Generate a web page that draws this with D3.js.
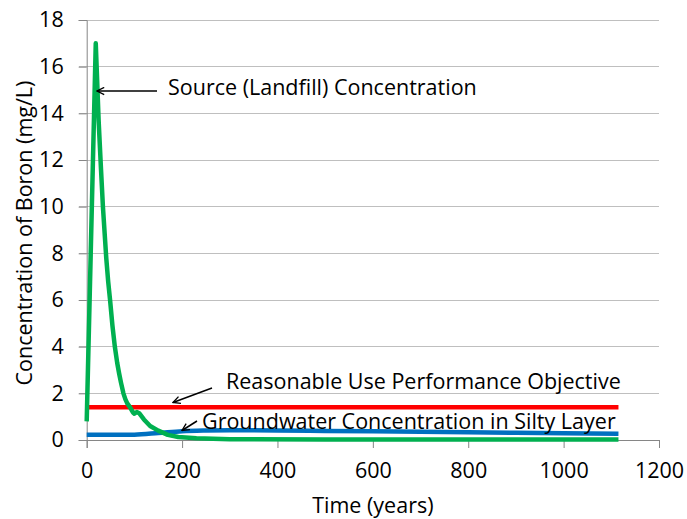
<!DOCTYPE html>
<html>
<head>
<meta charset="utf-8">
<script src="https://cdn.jsdelivr.net/npm/d3@7"></script>
<style>
  html, body { margin: 0; padding: 0; background: #fff; }
  svg { display: block; }
  text { font-family: "Open Sans", Lato, sans-serif; fill: #000; }
</style>
</head>
<body>
<svg id="chart" width="687" height="519"></svg>
<script>
// ---- data ----
const xTicks = [0, 200, 400, 600, 800, 1000, 1200];
const yTicks = [0, 2, 4, 6, 8, 10, 12, 14, 16, 18];

const sourceYears = [0, 19, 25, 30, 34, 41, 45, 49, 54, 59, 64, 68, 72, 77, 81, 85, 91, 97, 100, 105, 110, 120, 133, 150, 170, 192, 230, 300, 500, 1115];
const sourceConc  = [0.8, 17.0, 13.7, 11.6, 10.0, 7.8, 6.8, 6.0, 4.9, 4.0, 3.3, 2.85, 2.45, 2.0, 1.75, 1.57, 1.4, 1.18, 1.13, 1.2, 1.15, 0.88, 0.6, 0.4, 0.22, 0.13, 0.07, 0.03, 0.02, 0.02];

const gwYears = [0, 50, 100, 150, 200, 250, 300, 400, 500, 600, 700, 800, 900, 1000, 1115];
const gwConc  = [0.22, 0.22, 0.23, 0.3, 0.38, 0.41, 0.42, 0.41, 0.39, 0.37, 0.35, 0.33, 0.31, 0.29, 0.27];

const objYears = [0, 1115];
const objConc  = [1.4, 1.4];

const xTitle = "Time (years)";
const yTitle = "Concentration of Boron (mg/L)";
const labels = {
  source: "Source (Landfill) Concentration",
  objective: "Reasonable Use Performance Objective",
  groundwater: "Groundwater Concentration in Silty Layer"
};

// ---- layout ----
const svg = d3.select("#chart");
const x = d3.scaleLinear().domain([0, 1200]).range([86.7, 659]);
const y = d3.scaleLinear().domain([0, 18]).range([440, 20]);
const FS = 21.5;

// gridlines
svg.append("g").selectAll("line").data(yTicks.filter(d => d > 0)).join("line")
  .attr("x1", x(0) - 8).attr("x2", x(1200))
  .attr("y1", d => y(d)).attr("y2", d => y(d))
  .attr("stroke", "#bfbfbf").attr("stroke-width", 1)
  .attr("shape-rendering", "crispEdges");

// x axis
const xAxis = svg.append("g").attr("transform", `translate(0,${y(0)})`)
  .call(d3.axisBottom(x).tickValues(xTicks).tickSize(8).tickPadding(15).tickFormat(d3.format("d")));
xAxis.select(".domain").attr("stroke", "#868686");
xAxis.selectAll(".tick line").attr("stroke", "#868686");
xAxis.selectAll("text").attr("font-size", FS).attr("font-family", null);

// y axis
const yAxis = svg.append("g").attr("transform", `translate(${x(0)},0)`)
  .call(d3.axisLeft(y).tickValues(yTicks).tickSize(8).tickPadding(15).tickFormat(d3.format("d")));
yAxis.select(".domain").attr("stroke", "#868686");
yAxis.selectAll(".tick line").attr("stroke", "#868686");
yAxis.selectAll("text").attr("font-size", FS).attr("font-family", null);

// titles
svg.append("text").attr("x", (x(0) + x(1200)) / 2).attr("y", 513)
  .attr("text-anchor", "middle").attr("font-size", FS).text(xTitle);
svg.append("text").attr("transform", `translate(32,${(y(0) + y(18)) / 2 + 3}) rotate(-90)`)
  .attr("text-anchor", "middle").attr("font-size", FS).text(yTitle);

// lines
const line = d3.line().x(d => x(d[0])).y(d => y(d[1]));
const series = [
  { xs: gwYears, ys: gwConc, color: "#0070C0", curve: d3.curveMonotoneX },
  { xs: objYears, ys: objConc, color: "#FF0000", curve: d3.curveLinear },
  { xs: sourceYears, ys: sourceConc, color: "#00B050", curve: d3.curveLinear }
];
series.forEach(s => {
  svg.append("path")
    .datum(s.xs.map((v, i) => [v, s.ys[i]]))
    .attr("fill", "none").attr("stroke", s.color).attr("stroke-width", 4.5)
    .attr("stroke-linejoin", "round")
    .attr("d", line.curve(s.curve));
});

// annotations with arrows
svg.append("defs").append("marker")
  .attr("id", "arrow").attr("viewBox", "0 0 10 10").attr("refX", 9).attr("refY", 5)
  .attr("markerWidth", 9).attr("markerHeight", 9).attr("markerUnits", "userSpaceOnUse")
  .attr("orient", "auto")
  .append("path").attr("d", "M1,1 L9,5 L1,9").attr("fill", "none").attr("stroke", "#000").attr("stroke-width", 1.5);

function arrow(x1, y1, x2, y2) {
  svg.append("line").attr("x1", x1).attr("y1", y1).attr("x2", x2).attr("y2", y2)
    .attr("stroke", "#000").attr("stroke-width", 1.5).attr("marker-end", "url(#arrow)");
}
arrow(157, 91, 97, 91);
arrow(212, 388, 173, 402.5);
arrow(197, 421, 182, 430.5);

svg.append("text").attr("x", 168).attr("y", 95).attr("font-size", FS).text(labels.source);
svg.append("text").attr("x", 226).attr("y", 389).attr("font-size", FS).text(labels.objective);
svg.append("text").attr("x", 202).attr("y", 429).attr("font-size", FS).text(labels.groundwater);
</script>
</body>
</html>
